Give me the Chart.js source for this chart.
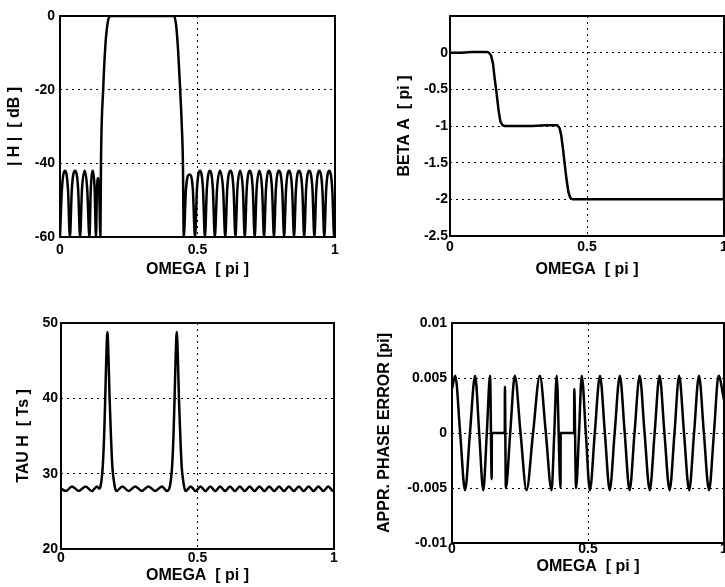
<!DOCTYPE html>
<html>
<head>
<meta charset="utf-8">
<script src="https://cdn.jsdelivr.net/npm/chart.js@4.4.1/dist/chart.umd.min.js"></script>
<style>
  body { margin: 0; background: #fff; }
  #wrap { position: relative; width: 725px; height: 587px; }
  #wrap canvas { position: absolute; left: 0; top: 0; }
</style>
</head>
<body>
<div id="wrap">
  <canvas id="magChart" width="725" height="587"></canvas>
  <canvas id="phaseChart" width="725" height="587"></canvas>
  <canvas id="delayChart" width="725" height="587"></canvas>
  <canvas id="errChart" width="725" height="587"></canvas>
</div>
<script>
// frequency axis (units of pi)
const omegaTicks = [0, 0.5, 1];

// |H| in dB
const magOmega = [0, 0.007, 0.018, 0.029, 0.036, 0.043, 0.055, 0.066, 0.073, 0.080, 0.090, 0.099, 0.107,
    0.112, 0.120, 0.126, 0.131, 0.134, 0.139, 0.143, 0.147, 0.149, 0.157, 0.165, 0.173, 0.182, 0.300, 0.415,
    0.423, 0.430, 0.437, 0.443, 0.447, 0.450, 0.458, 0.471, 0.483, 0.491, 0.498, 0.509, 0.520, 0.527, 0.534,
    0.545, 0.556, 0.563, 0.571, 0.582, 0.593, 0.601, 0.608, 0.620, 0.631, 0.638, 0.645, 0.655, 0.665, 0.672,
    0.679, 0.690, 0.701, 0.708, 0.715, 0.725, 0.735, 0.742, 0.749, 0.760, 0.771, 0.778, 0.785, 0.796, 0.808,
    0.815, 0.822, 0.833, 0.844, 0.851, 0.858, 0.869, 0.881, 0.888, 0.895, 0.906, 0.918, 0.925, 0.932, 0.943,
    0.954, 0.961, 0.968, 0.979, 0.990, 0.997, 1.000];
const magDb = [-60, -47, -42, -47, -60, -47, -42, -47, -60, -47, -42, -47, -60,
    -47, -42, -47, -60, -48, -44, -49, -60, -40, -20, -8, -2, 0, 0, 0,
    -3, -10, -20, -30, -40, -60, -47, -43, -47, -60, -47, -42, -47, -60, -47,
    -42, -47, -60, -47, -42, -47, -60, -47, -42, -47, -60, -47, -42, -47, -60,
    -47, -42, -47, -60, -47, -42, -47, -60, -47, -42, -47, -60, -47, -42, -47,
    -60, -47, -42, -47, -60, -47, -42, -47, -60, -47, -42, -47, -60, -47, -42,
    -47, -60, -47, -42, -47, -60, -52];
const magTicks = [-60, -40, -20, 0];

// phase BETA A in units of pi
const phaseOmega = [0, 0.040, 0.080, 0.120, 0.135, 0.142, 0.150, 0.157, 0.163, 0.170, 0.177, 0.184, 0.192,
    0.200, 0.300, 0.350, 0.392, 0.400, 0.406, 0.412, 0.418, 0.425, 0.432, 0.439, 0.448, 0.600, 0.800, 1.000, 1.000];
const phaseBeta = [0, 0, 0.01, 0.01, 0.01, 0, -0.04, -0.15, -0.35, -0.55, -0.78, -0.94, -0.99,
    -1, -1, -0.99, -0.99, -1.03, -1.13, -1.3, -1.5, -1.72, -1.9, -1.98, -2, -2, -2, -2, -1.45];
const phaseTicks = [-2.5, -2, -1.5, -1, -0.5, 0];

// group delay in samples
const delayOmega = [0, 0.018, 0.040, 0.065, 0.090, 0.113, 0.132, 0.140, 0.144, 0.149, 0.153, 0.158, 0.162,
    0.166, 0.170, 0.174, 0.178, 0.183, 0.188, 0.193, 0.198, 0.203, 0.225, 0.248, 0.272, 0.296, 0.320, 0.345,
    0.370, 0.388, 0.398, 0.403, 0.407, 0.412, 0.416, 0.420, 0.424, 0.428, 0.432, 0.437, 0.442, 0.447, 0.452,
    0.457, 0.475, 0.493, 0.511, 0.529, 0.547, 0.565, 0.583, 0.601, 0.619, 0.637, 0.655, 0.673, 0.691, 0.709,
    0.727, 0.745, 0.763, 0.781, 0.799, 0.817, 0.835, 0.853, 0.871, 0.889, 0.907, 0.925, 0.943, 0.961, 0.979,
    0.997, 1.000];
const delayTau = [28, 27.7, 28.3, 27.7, 28.3, 27.7, 28.3, 28, 28.2, 29.3, 31, 35, 40,
    45.5, 48.8, 45.5, 40, 35, 31, 29.2, 28.1, 27.7, 28.3, 27.7, 28.3, 27.7, 28.3, 27.7,
    28.3, 27.7, 28.2, 29.3, 31, 35, 40, 45.5, 48.8, 45.5, 40, 35, 31, 29.2, 28.1,
    27.7, 28.3, 27.7, 28.3, 27.7, 28.3, 27.7, 28.3, 27.7, 28.3, 27.7, 28.3, 27.7, 28.3, 27.7,
    28.3, 27.7, 28.3, 27.7, 28.3, 27.7, 28.3, 27.7, 28.3, 27.7, 28.3, 27.7, 28.3, 27.7, 28.3,
    27.7, 27.8];
const delayTicks = [20, 30, 40, 50];

// approximated phase error in units of pi
const errOmega = [0, 0.012, 0.030, 0.048, 0.066, 0.085, 0.100, 0.115, 0.128, 0.140, 0.146, 0.1465, 0.194,
    0.1945, 0.198, 0.214, 0.231, 0.252, 0.274, 0.298, 0.323, 0.345, 0.366, 0.376, 0.385, 0.399, 0.3995, 0.449,
    0.4495, 0.456, 0.467, 0.477, 0.492, 0.507, 0.525, 0.544, 0.562, 0.580, 0.598, 0.617, 0.635, 0.653, 0.671,
    0.690, 0.708, 0.727, 0.745, 0.763, 0.781, 0.800, 0.818, 0.835, 0.853, 0.872, 0.890, 0.908, 0.926, 0.945,
    0.963, 0.980, 1.000];
const errPhase = [0.004, 0.0052, 0, -0.0052, 0, 0.0052, 0, -0.0052, 0, 0.0052, -0.0042, 0, 0,
    0.0042, -0.005, 0, 0.0052, 0, -0.0052, 0, 0.0052, 0, -0.0052, 0, 0.0052, -0.005, 0, 0,
    0.004, -0.005, 0, 0.0052, 0, -0.0052, 0, 0.0052, 0, -0.0052, 0, 0.0052, 0, -0.0052, 0,
    0.0052, 0, -0.0052, 0, 0.0052, 0, -0.0052, 0, 0.0052, 0, -0.0052, 0, 0.0052, 0, -0.0052,
    0, 0.0052, 0.003];
const errTicks = [-0.01, -0.005, 0, 0.005, 0.01];

const family = '"Liberation Sans", Arial, Helvetica, sans-serif';
const tickFont = { family: family, size: 14, weight: 'bold' };
const titleFont = { family: family, size: 16, weight: 'bold' };

// solid box around the plot area
const frame = {
    id: 'frame',
    afterDatasetsDraw(chart) {
        const a = chart.chartArea;
        const ctx = chart.ctx;
        ctx.save();
        ctx.strokeStyle = '#000';
        ctx.lineWidth = 2;
        ctx.strokeRect(a.left, a.top, a.right - a.left, a.bottom - a.top);
        ctx.restore();
    }
};

function axis(ticks, min, max, title, size, pad, horizontal) {
    return {
        type: 'linear',
        min: min,
        max: max,
        afterBuildTicks: s => { s.ticks = ticks.map(v => ({ value: v })); },
        afterFit: s => {
            if (horizontal) s.height = size; else s.width = size;
            s.paddingLeft = s.paddingRight = s.paddingTop = s.paddingBottom = 0;
        },
        ticks: { color: '#000', font: tickFont, padding: pad, maxRotation: 0, autoSkip: false, callback: v => String(v) },
        grid: { color: '#000', lineWidth: 1, drawTicks: false },
        border: { display: false, dash: [2, 4] },
        title: { display: true, text: title, color: '#000', font: titleFont, padding: 0 }
    };
}

function drawPanel(id, xs, ys, o) {
    return new Chart(document.getElementById(id), {
        type: 'scatter',
        data: {
            datasets: [{
                data: xs.map((x, i) => ({ x: x, y: ys[i] })),
                showLine: true,
                borderColor: '#000',
                borderWidth: 2.5,
                pointRadius: 0,
                tension: 0,
                cubicInterpolationMode: o.smooth ? 'monotone' : 'default'
            }]
        },
        options: {
            responsive: false,
            animation: false,
            events: [],
            layout: { padding: o.pad },
            plugins: { legend: { display: false }, tooltip: { enabled: false } },
            scales: {
                x: axis(omegaTicks, 0, 1, 'OMEGA  [ pi ]', o.xh, o.xpad, true),
                y: axis(o.ticks, o.min, o.max, o.title, o.yw, o.ypad, false)
            }
        },
        plugins: [frame]
    });
}

drawPanel('magChart', magOmega, magDb, {
    smooth: true, ticks: magTicks, min: -60, max: 0, title: '| H |  [ dB ]',
    pad: { left: 5, right: 390, top: 16, bottom: 308 }, yw: 55, xh: 42, ypad: 5, xpad: 5
});

drawPanel('phaseChart', phaseOmega, phaseBeta, {
    smooth: false, ticks: phaseTicks, min: -2.5, max: 0.5, title: 'BETA A  [ pi ]',
    pad: { left: 395, right: 1, top: 16, bottom: 308 }, yw: 55, xh: 43, ypad: 2, xpad: 3
});

drawPanel('delayChart', delayOmega, delayTau, {
    smooth: true, ticks: delayTicks, min: 20, max: 50, title: 'TAU H  [ Ts ]',
    pad: { left: 14, right: 391, top: 323, bottom: 2 }, yw: 47, xh: 36, ypad: 3, xpad: 1
});

drawPanel('errChart', errOmega, errPhase, {
    smooth: true, ticks: errTicks, min: -0.01, max: 0.01, title: 'APPR. PHASE ERROR [pi]',
    pad: { left: 375, right: 1, top: 323, bottom: 11 }, yw: 77, xh: 33, ypad: 5, xpad: -2
});
</script>
</body>
</html>
